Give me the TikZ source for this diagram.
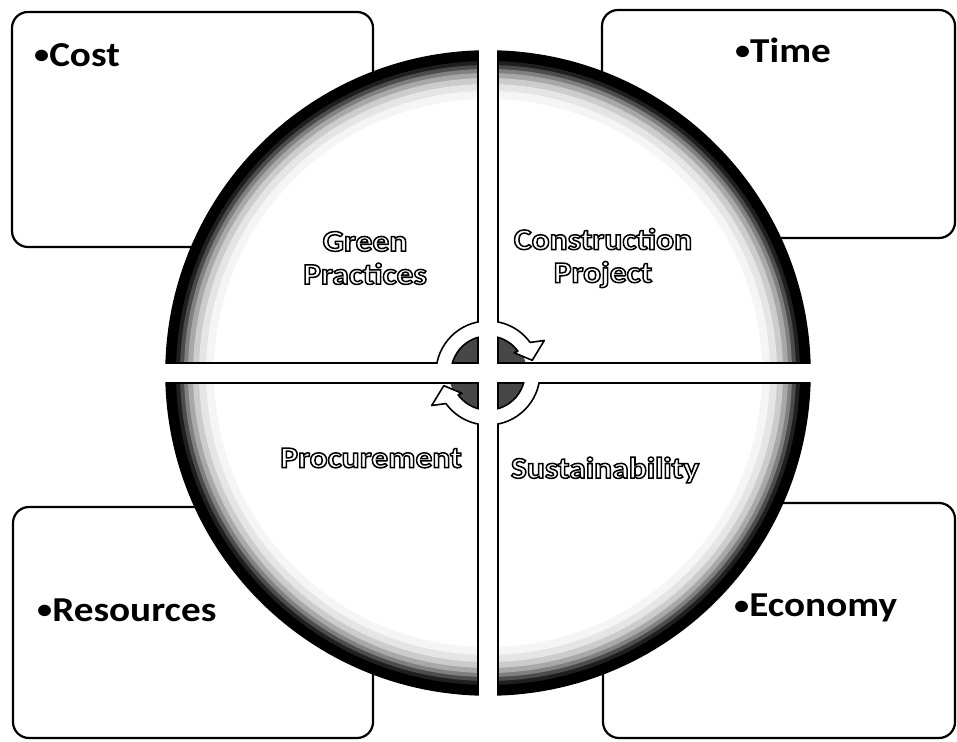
\documentclass[tikz,border=0pt]{standalone}
\usepackage{fontspec}
\setmainfont{Carlito}
\newfontfamily\wideCarlito{Carlito}[FakeStretch=1.12]
\usetikzlibrary{positioning}
% outline text: white fill, black stroke
\newcommand{\hollow}[1]{{\special{pdf:literal direct 2 Tr 1.5 w 0 G}#1\special{pdf:literal direct 0 Tr}}}
\newcommand{\dotbul}{{\fontsize{27}{27}\selectfont\raisebox{2.5pt}{•}}}

\begin{document}
\begin{tikzpicture}[x=1pt, y=1pt,
        box/.style={draw, line width=2.2pt, rounded corners=16pt, fill=white, inner sep=0pt},
        item/.style={inner sep=0pt, font=\wideCarlito\bfseries\fontsize{35}{38}\selectfont},
        quad/.style={draw, line width=1.6pt},
        seglbl/.style={text=white, align=center, inner sep=0pt,
                font=\wideCarlito\bfseries\fontsize{30}{33}\selectfont},
        cyc/.style={draw, line width=1.6pt, fill=white, line join=round}
    ]
    \useasboundingbox (0,0) rectangle (957,741);

    % corner boxes
    \node[box, minimum width=361pt, minimum height=235pt] (boxCost) at (192.5,611.5) {};
    \node[box, minimum width=353pt, minimum height=228pt] (boxTime) at (778.5,617) {};
    \node[box, minimum width=360pt, minimum height=231pt] (boxRes)  at (193,118.5) {};
    \node[box, minimum width=352pt, minimum height=235pt] (boxEco)  at (779,120.5) {};

    \node[item, anchor=west] (cost) at (34,686) {\dotbul Cost};
    \node[item] (time) at (783,691) {\dotbul Time};
    \node[item, anchor=west] (res) at (37,131) {\dotbul Resources};
    \node[item, anchor=west] (eco) at (734,133) {\dotbul Economy};

    % circle in four quarters, dark rim
    \foreach \a in {0,90,180,270} {
        \begin{scope}[shift={(488,368)}, rotate=\a]
            \path[clip] (10,10) -- (1.78:322) arc[start angle=1.78, end angle=88.22, radius=322] -- cycle;
            \foreach \rr/\cc in {322/100,312/88,308/70,304/50,300/34,295/20,289/10,282/4,274/0} {
                \fill[black!\cc] (0,0) circle[radius=\rr];
            }
            \fill[black!72] (0,0) circle[radius=39];
        \end{scope}
        \draw[quad, shift={(488,368)}, rotate=\a]
            (10,10) -- (1.78:322) arc[start angle=1.78, end angle=88.22, radius=322] -- cycle;
    }

    % cycle arrows in the middle
    \draw[cyc, shift={(488,368)}]
        (180:52) arc[start angle=180, end angle=36, radius=52] -- (30:65) -- (16:46)
        -- (38:33) -- (36:37) arc[start angle=36, end angle=180, radius=37] -- cycle;
    \draw[cyc, shift={(488,368)}, rotate=180]
        (180:52) arc[start angle=180, end angle=36, radius=52] -- (30:65) -- (16:46)
        -- (38:33) -- (36:37) arc[start angle=36, end angle=180, radius=37] -- cycle;
    \fill[white] (478.8,293) rectangle (497.2,443);
    \fill[white] (413,358.8) rectangle (563,377.2);

    % quarter labels
    \node[seglbl] (green) at (365,483) {\hollow{Green}\\\hollow{Practices}};
    \node[seglbl] (constr) at (603,483) {\hollow{Construction}\\\hollow{Project}};
    \node[seglbl] (proc) at (371,283) {\hollow{Procurement}};
    \node[seglbl] (sust) at (605,271) {\hollow{Sustainability}};
\end{tikzpicture}
\end{document}
